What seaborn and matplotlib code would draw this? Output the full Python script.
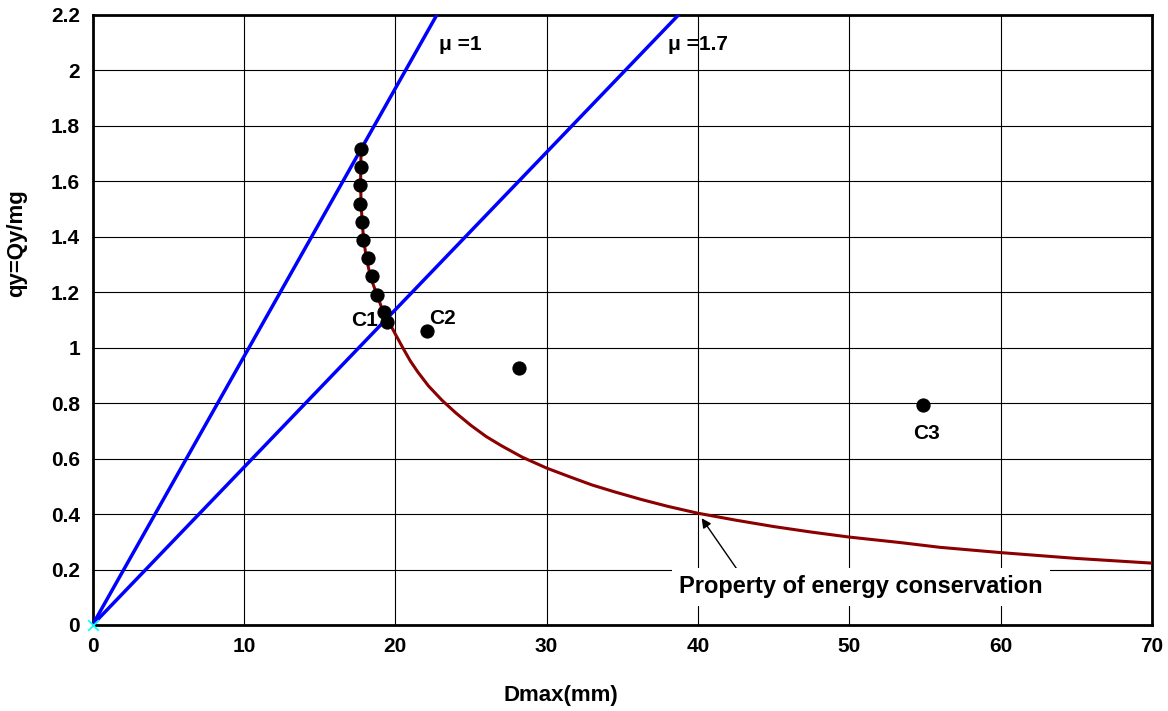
import pandas as pd
import seaborn as sns
import matplotlib
matplotlib.use("Agg")
import matplotlib.pyplot as plt

# energy conservation curve
curve_d = [17.75, 17.72, 17.72, 17.75, 17.82, 17.92, 18.1, 18.4, 18.8, 19.2, 19.66,
           20.0, 20.5, 21.0, 21.5, 22.2, 23.1, 24.0, 25.0, 26.0, 27.0, 28.4, 30.0,
           31.5, 33.0, 34.5, 36.3, 38.0, 40.0, 42.5, 45.0, 47.5, 50.0, 53.4, 56.0,
           60.0, 65.0, 70.0]
curve_q = [1.72, 1.65, 1.58, 1.52, 1.45, 1.39, 1.32, 1.25, 1.19, 1.13, 1.085,
           1.05, 1.0, 0.952, 0.912, 0.862, 0.81, 0.765, 0.72, 0.68, 0.647, 0.605, 0.566,
           0.535, 0.505, 0.48, 0.452, 0.428, 0.403, 0.378, 0.355, 0.335, 0.317, 0.297, 0.28,
           0.261, 0.24, 0.223]

# ductility lines (mu = 1 and mu = 1.7)
mu1_d = [0.0, 22.75]
mu1_q = [0.0, 2.2]
mu17_d = [0.0, 38.72]
mu17_q = [0.0, 2.2]

# test results
point_d = [17.75, 17.73, 17.70, 17.70, 17.79, 17.88, 18.21, 18.47, 18.82, 19.27, 19.44,
           22.13, 28.2, 54.9]
point_q = [1.718, 1.653, 1.587, 1.518, 1.455, 1.389, 1.322, 1.257, 1.191, 1.127, 1.094,
           1.059, 0.925, 0.794]

x_ticks = [0, 10, 20, 30, 40, 50, 60, 70]
y_ticks = [0, 0.2, 0.4, 0.6, 0.8, 1, 1.2, 1.4, 1.6, 1.8, 2, 2.2]
y_tick_labels = ["0", "0.2", "0.4", "0.6", "0.8", "1", "1.2", "1.4", "1.6", "1.8", "2", "2.2"]


def make_plot():
    sns.set_style("white")
    plt.rcParams["font.family"] = ["Liberation Sans", "DejaVu Sans"]
    plt.rcParams["text.color"] = "black"
    plt.rcParams["axes.labelcolor"] = "black"
    plt.rcParams["xtick.color"] = "black"
    plt.rcParams["ytick.color"] = "black"

    fig = plt.figure(figsize=(11.68, 7.11), dpi=100)
    ax = fig.add_axes([0.0792, 0.121, 0.907, 0.858])

    curve_df = pd.DataFrame({"D": curve_d, "q": curve_q})
    sns.lineplot(data=curve_df, x="D", y="q", sort=False, estimator=None,
                 color="#8b0000", linewidth=2.2, ax=ax, zorder=3)

    mu1_df = pd.DataFrame({"D": mu1_d, "q": mu1_q})
    mu17_df = pd.DataFrame({"D": mu17_d, "q": mu17_q})
    sns.lineplot(data=mu1_df, x="D", y="q", sort=False, estimator=None,
                 color="#0000ff", linewidth=2.5, ax=ax, zorder=3)
    sns.lineplot(data=mu17_df, x="D", y="q", sort=False, estimator=None,
                 color="#0000ff", linewidth=2.5, ax=ax, zorder=3)

    point_df = pd.DataFrame({"D": point_d, "q": point_q})
    sns.scatterplot(data=point_df, x="D", y="q", color="black", s=90,
                    edgecolor="black", ax=ax, zorder=4)
    ax.scatter([0], [0], marker="x", color="cyan", s=60, linewidths=1.2,
               zorder=5, clip_on=False)

    ax.set_xlim(0, 70)
    ax.set_ylim(0, 2.2)
    ax.set_xticks(x_ticks)
    ax.set_yticks(y_ticks)
    ax.set_xticklabels([str(t) for t in x_ticks])
    ax.set_yticklabels(y_tick_labels)
    ax.grid(True, color="black", linewidth=0.8)
    ax.tick_params(direction="in", length=5, width=2, labelsize=15, pad=9)
    for lab in ax.get_xticklabels() + ax.get_yticklabels():
        lab.set_fontweight("bold")
    for sp in ax.spines.values():
        sp.set_color("black")
        sp.set_linewidth(2)

    ax.set_xlabel("Dmax(mm)", fontsize=16, fontweight="bold")
    ax.set_ylabel("qy=Qy/mg", fontsize=16, fontweight="bold")
    ax.xaxis.set_label_coords(0.442, -0.098)
    ax.yaxis.set_label_coords(-0.062, 0.626)

    ax.text(22.9, 2.094, "\u03bc =1", fontsize=15, fontweight="bold", va="center")
    ax.text(38.0, 2.094, "\u03bc =1.7", fontsize=15, fontweight="bold", va="center")
    ax.text(18.0, 1.099, "C1", fontsize=15, fontweight="bold", ha="center", va="center")
    ax.text(23.1, 1.104, "C2", fontsize=15, fontweight="bold", ha="center", va="center")
    ax.text(55.1, 0.692, "C3", fontsize=15, fontweight="bold", ha="center", va="center")

    ax.annotate("Property of energy conservation", xy=(40.25, 0.385), xytext=(50.8, 0.137),
                fontsize=17, fontweight="bold", ha="center", va="center",
                bbox=dict(boxstyle="square,pad=0.3", facecolor="white", edgecolor="none"),
                arrowprops=dict(arrowstyle="-|>", color="black", lw=1, shrinkA=0,
                                shrinkB=0, mutation_scale=14,
                                relpos=(0.17, 1.0)),
                zorder=6)

    plt.savefig("out.png", dpi=100)


if __name__ == "__main__":
    make_plot()
